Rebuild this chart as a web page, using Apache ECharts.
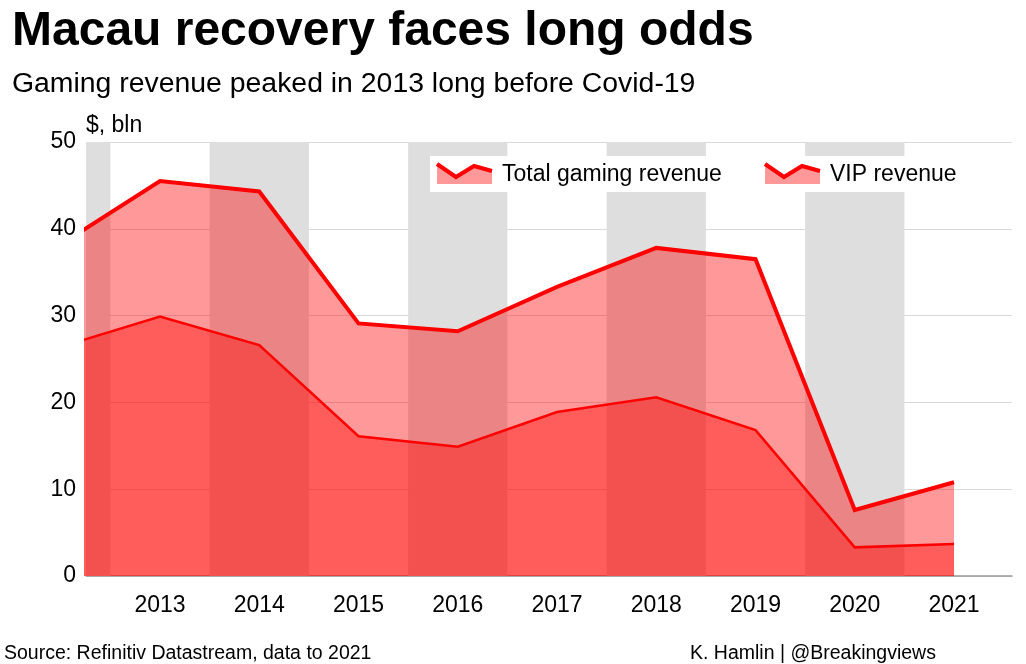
<!DOCTYPE html>
<html>
<head>
<meta charset="utf-8">
<script src="https://cdn.jsdelivr.net/npm/echarts@6/dist/echarts.min.js"></script>
<style>
html,body{margin:0;padding:0;background:#fff;}
#chart{width:1026px;height:664px;}
</style>
</head>
<body>
<div id="chart"></div>
<script>
// Data ($ bln)
var years = [2012, 2013, 2014, 2015, 2016, 2017, 2018, 2019, 2020, 2021];
var totalRevenue = [38.2, 45.5, 44.3, 29.1, 28.2, 33.3, 37.8, 36.5, 7.6, 10.8];
var vipRevenue = [26.4, 29.9, 26.6, 16.1, 14.9, 18.9, 20.6, 16.8, 3.3, 3.7];
var xTickLabels = [2013, 2014, 2015, 2016, 2017, 2018, 2019, 2020, 2021];
var shadedYears = [2012, 2014, 2016, 2018, 2020];
var legendNames = ['Total gaming revenue', 'VIP revenue'];

var FONT = '"Liberation Sans", Arial, sans-serif';
var chart = echarts.init(document.getElementById('chart'), null, {renderer: 'canvas'});

function pairs(xs, ys) { return xs.map(function (x, i) { return [x, ys[i]]; }); }

var bands = shadedYears.map(function (y) {
  return [{xAxis: y - 0.5}, {xAxis: y + 0.5}];
});

// legend icon shape helper
function legendIcon(x0, key) {
  var pts = [[x0, 164], [x0 + 19, 177], [x0 + 37, 166], [x0 + 55, 171]];
  return [
    {type: 'polygon', id: 'lf' + key, z: 101, shape: {points: pts.concat([[x0 + 55, 184], [x0, 184]])}, style: {fill: '#ff9999'}, silent: true},
    {type: 'polyline', id: 'll' + key, z: 102, shape: {points: pts}, style: {stroke: '#ff0000', lineWidth: 4, fill: null}, silent: true}
  ];
}

var graphics = [
  {type: 'text', id: 't1', left: 12, top: 8, style: {text: 'Macau recovery faces long odds', fontSize: 48, fontWeight: 'bold', fontFamily: FONT, fill: '#000'}},
  {type: 'text', id: 't2', left: 12, top: 70, style: {text: 'Gaming revenue peaked in 2013 long before Covid-19', fontSize: 28.4, fontFamily: FONT, fill: '#000'}},
  {type: 'text', id: 't3', left: 4, top: 644, style: {text: 'Source: Refinitiv Datastream, data to 2021', fontSize: 19.5, fontFamily: FONT, fill: '#000'}},
  {type: 'text', id: 't4', left: 690, top: 644, style: {text: 'K. Hamlin | @Breakingviews', fontSize: 19.5, fontFamily: FONT, fill: '#000'}},
  {type: 'rect', id: 'lbox', z: 100, shape: {x: 430, y: 156, width: 542, height: 36}, style: {fill: '#ffffff'}, silent: true}
].concat(legendIcon(437, 'a')).concat(legendIcon(765, 'b')).concat([
  {type: 'text', id: 'lt1', z: 103, x: 502, y: 163, style: {text: legendNames[0], fontSize: 23, fontFamily: FONT, fill: '#000'}, silent: true},
  {type: 'text', id: 'lt2', z: 103, x: 830, y: 163, style: {text: legendNames[1], fontSize: 23, fontFamily: FONT, fill: '#000'}, silent: true}
]);

var option = {
  backgroundColor: '#ffffff',
  animation: false,
  textStyle: {fontFamily: FONT},
  grid: {left: 86, right: 14, top: 142, bottom: 88, containLabel: false},
  xAxis: {
    type: 'value',
    min: 2012.2544,
    max: 2021.584,
    axisLine: {show: true, lineStyle: {color: '#999999', width: 1.5}},
    axisTick: {show: false},
    splitLine: {show: false},
    axisLabel: {
      customValues: xTickLabels,
      color: '#000000',
      fontSize: 23,
      fontFamily: FONT,
      margin: 18,
      formatter: function (v) { return String(Math.round(v)); }
    }
  },
  yAxis: {
    type: 'value',
    min: 0,
    max: 50,
    interval: 10,
    name: '$, bln',
    nameLocation: 'end',
    nameGap: 5,
    nameTextStyle: {color: '#000', fontSize: 23, fontFamily: FONT, align: 'left'},
    axisLine: {show: false},
    axisTick: {show: false},
    axisLabel: {color: '#000000', fontSize: 23, fontFamily: FONT, margin: 10},
    splitLine: {show: true, lineStyle: {color: '#d9d9d9', width: 1}}
  },
  series: [
    {
      name: 'bands',
      type: 'line',
      data: [],
      z: -1,
      silent: true,
      markArea: {
        silent: true,
        itemStyle: {color: '#dedede'},
        data: bands
      }
    },
    {
      name: legendNames[0],
      type: 'line',
      data: pairs(years, totalRevenue),
      showSymbol: false,
      symbol: 'none',
      lineStyle: {color: '#ff0000', width: 4, join: 'miter'},
      itemStyle: {color: '#ff0000'},
      areaStyle: {color: '#ff0000', opacity: 0.4},
      z: 3
    },
    {
      name: legendNames[1],
      type: 'line',
      data: pairs(years, vipRevenue),
      showSymbol: false,
      symbol: 'none',
      lineStyle: {color: '#ff0000', width: 2.5, join: 'miter'},
      itemStyle: {color: '#ff0000'},
      areaStyle: {color: '#ff0000', opacity: 0.4},
      z: 4
    }
  ],
  graphic: graphics
};
chart.setOption(option);
</script>
</body>
</html>
